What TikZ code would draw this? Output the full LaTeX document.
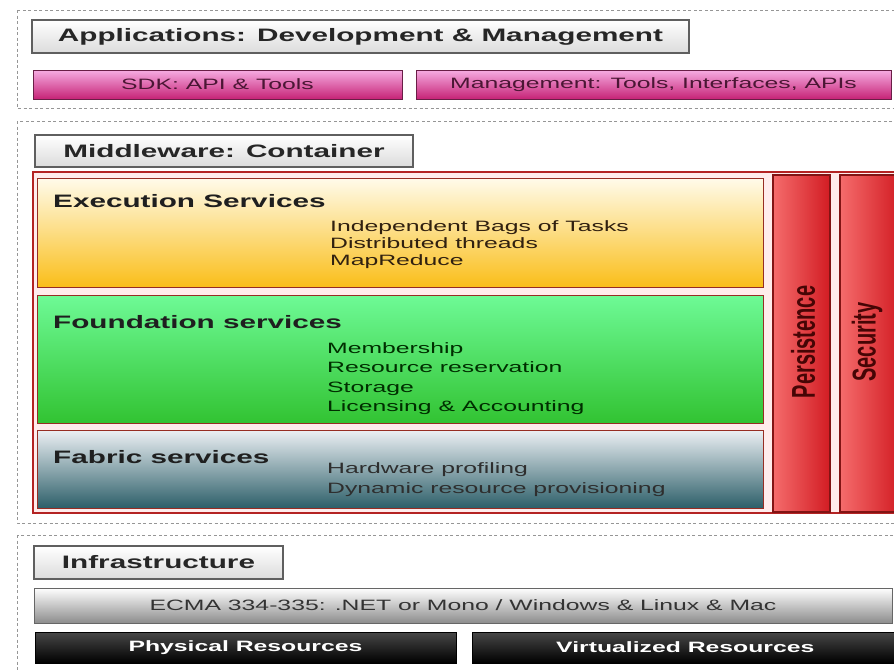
\documentclass[tikz,border=0pt]{standalone}
\usepackage{fontspec}
\setmainfont{Liberation Sans}[FakeStretch=1.65]
\newfontfamily\upfont{Liberation Sans}
\usepackage{graphicx}
\usepackage{tikz}
\usetikzlibrary{positioning}

\definecolor{dashgray}{RGB}{150,150,150}
\definecolor{titleline}{RGB}{95,95,95}
\definecolor{pinktop}{RGB}{246,172,226}
\definecolor{pinkmid}{RGB}{240,115,195}
\definecolor{pinkbot}{RGB}{198,35,118}
\definecolor{pinkline}{RGB}{105,30,70}
\definecolor{pinktext}{RGB}{75,22,52}
\definecolor{frameline}{RGB}{180,35,35}
\definecolor{framefill}{RGB}{255,236,236}
\definecolor{exectop}{RGB}{255,251,235}
\definecolor{execbot}{RGB}{250,190,25}
\definecolor{foundtop}{RGB}{110,250,150}
\definecolor{foundbot}{RGB}{50,195,50}
\definecolor{fabtop}{RGB}{236,240,244}
\definecolor{fabbot}{RGB}{45,95,105}
\definecolor{layerline}{RGB}{150,45,35}
\definecolor{colleft}{RGB}{245,108,108}
\definecolor{colright}{RGB}{210,28,35}
\definecolor{colline}{RGB}{130,20,20}
\definecolor{coltext}{RGB}{70,5,5}

\begin{document}
\begin{tikzpicture}[x=1pt,y=-1pt,
  region/.style={draw=dashgray,line width=0.8pt,dash pattern=on 3pt off 2.5pt},
  titlebox/.style={draw=titleline,line width=1.2pt,top color=white,bottom color=gray!28,inner sep=0pt,text=black!85,font=\fontsize{18}{20}\selectfont\bfseries},
  pinkbox/.style={draw=pinkline,line width=1pt,top color=pinktop,middle color=pinkmid,bottom color=pinkbot,inner sep=0pt,minimum height=29pt,text=pinktext,font=\fontsize{15}{17}\selectfont},
  layerbox/.style={draw=layerline,line width=0.8pt,inner sep=0pt,minimum width=726pt},
  head/.style={anchor=base west,inner sep=0pt,text=black!88,font=\fontsize{18}{20}\selectfont\bfseries},
  items/.style={anchor=north west,inner sep=0pt,align=left},
  column/.style={draw=colline,line width=1.2pt,left color=colleft,right color=colright,minimum height=337pt,inner sep=0pt},
  collabel/.style={rotate=90,inner sep=0pt,text=coltext,font=\upfont\fontsize{20}{22}\selectfont\bfseries},
  resbox/.style={draw=black,line width=0.8pt,top color=black!72,bottom color=black,inner sep=0pt,minimum height=31pt,text=white,font=\fontsize{15}{17}\selectfont\bfseries}]
  \useasboundingbox (0,0) rectangle (894,670);
  \fill[white] (0,0) rectangle (894,670);

  \draw[region] (17,10) rectangle (905,108);
  \draw[region] (17,121) rectangle (905,523);
  \draw[region] (17,535) rectangle (905,690);

  \node[titlebox,minimum width=657pt,minimum height=33pt] (apps) at (360.5,36.5) {Applications: Development \& Management};
  \node[pinkbox,minimum width=369pt] (sdk) at (217.5,84.5) {SDK: API \& Tools};
  \node[pinkbox,minimum width=475pt,right=13pt of sdk] (mgmt) {Management: Tools, Interfaces, APIs};

  \node[titlebox,minimum width=378pt,minimum height=32pt] (mw) at (224,151) {Middleware: Container};
  \node[draw=frameline,line width=2pt,fill=framefill,minimum width=872pt,minimum height=341pt,inner sep=0pt] (frame) at (469,342.5) {};

  \node[layerbox,top color=exectop,bottom color=execbot,minimum height=109pt] (exec) at (400,232.5) {};
  \node[layerbox,top color=foundtop,bottom color=foundbot,minimum height=128pt] (found) at (400,359) {};
  \node[layerbox,top color=fabtop,bottom color=fabbot,minimum height=78pt] (fab) at (400,469) {};

  \node[head] (exechead) at (53,207) {Execution Services};
  \node[items,text=black!75!brown,font=\fontsize{15}{17}\selectfont] (execlist) at (330,220) {Independent Bags of Tasks\\Distributed threads\\MapReduce};
  \node[head] (foundhead) at (53,328) {Foundation services};
  \node[items,text=black!70!green!60!black,font=\fontsize{15}{19.5}\selectfont] (foundlist) at (327,342) {Membership\\Resource reservation\\Storage\\Licensing \& Accounting};
  \node[head] (fabhead) at (53,463) {Fabric services};
  \node[items,text=black!82,font=\fontsize{15}{20}\selectfont] (fablist) at (327,462) {Hardware profiling\\Dynamic resource provisioning};

  \node[column,minimum width=57pt] (pers) at (801.5,343.5) {};
  \node[column,minimum width=60pt] (sec) at (870,343.5) {};
  \node[collabel] (perslabel) at (803,342) {\scalebox{1}[1.65]{Persistence}};
  \node[collabel] (seclabel) at (867,342) {\scalebox{1}[1.65]{Security}};

  \node[titlebox,minimum width=249pt,minimum height=33pt] (infra) at (158.5,562.5) {Infrastructure};
  \node[draw=black!60,line width=1pt,top color=white,bottom color=black!45,inner sep=0pt,minimum width=858pt,minimum height=35pt,text=black!80,font=\fontsize{15}{17}\selectfont] (ecma) at (463,605.5) {ECMA 334-335: .NET or Mono / Windows \& Linux \& Mac};
  \node[resbox,minimum width=421pt] (phys) at (245.5,647.5) {Physical Resources};
  \node[resbox,minimum width=425pt,right=16pt of phys] (virt) {Virtualized Resources};
\end{tikzpicture}
\end{document}
